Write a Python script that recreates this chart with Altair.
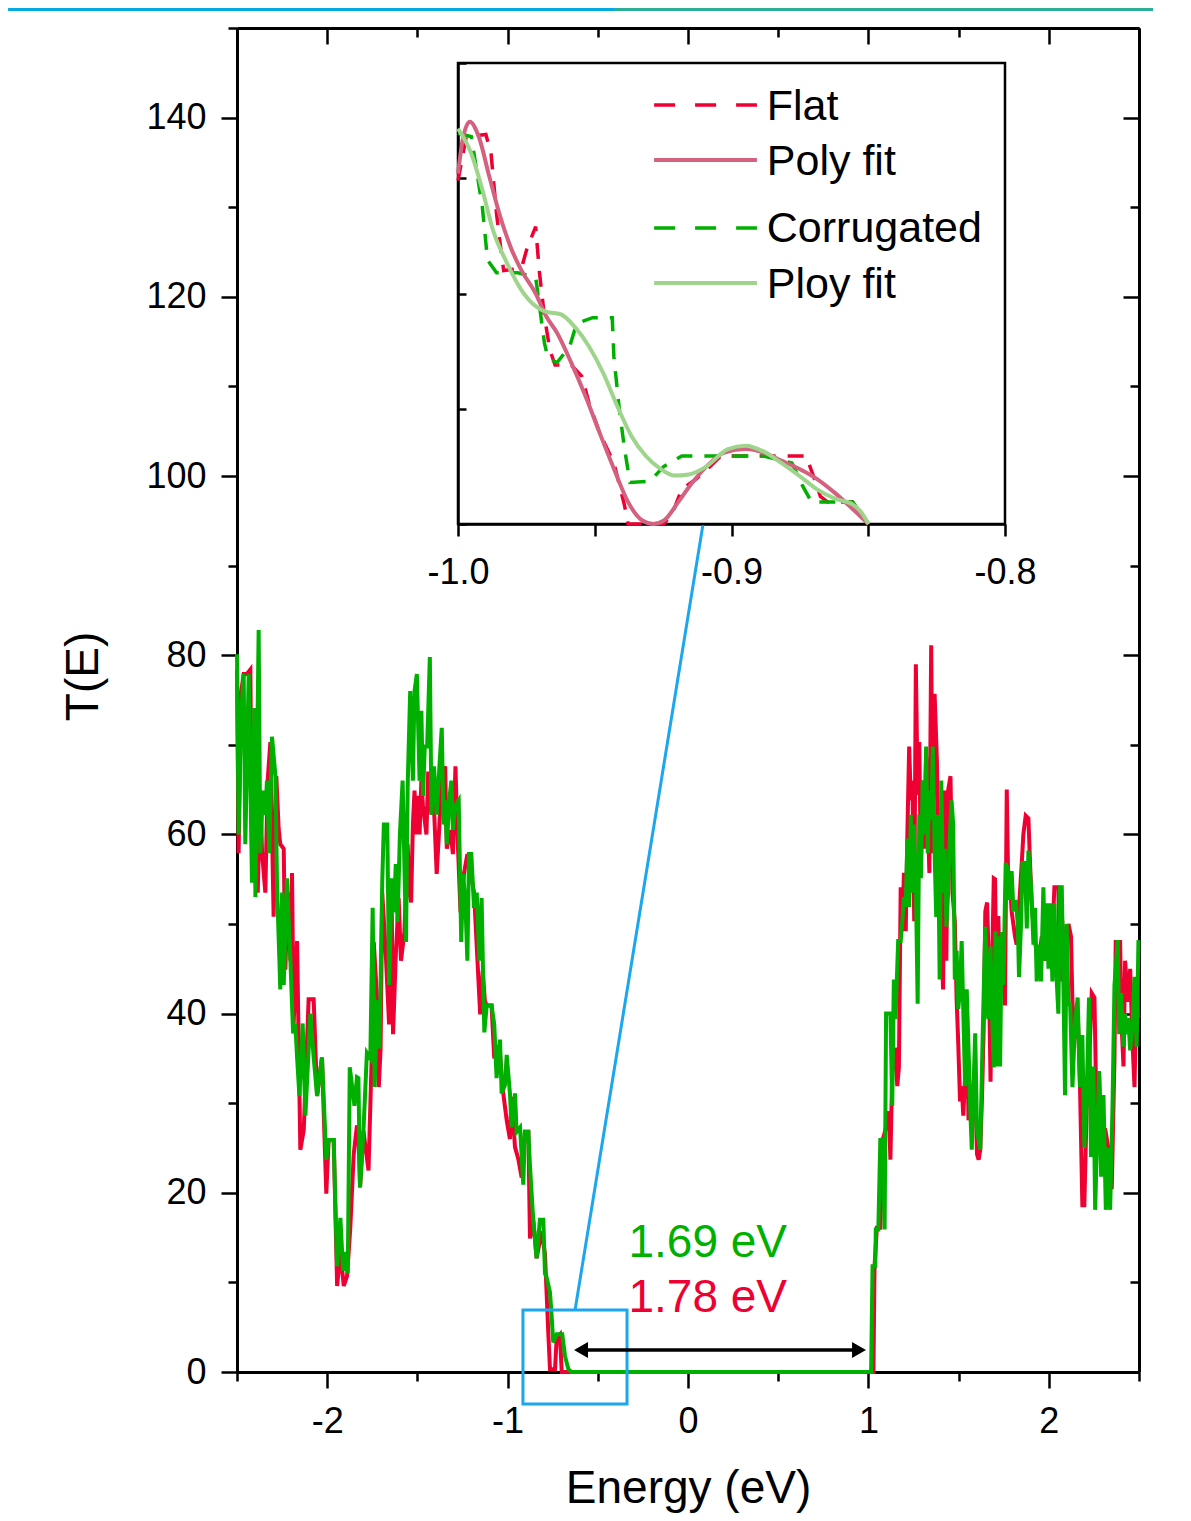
import altair as alt
import pandas as pd

FONT = "Liberation Sans"
RED = "#EE0033"
GREEN = "#00B000"
PINK = "#D3617F"
LGREEN = "#9ED48B"
BLUE = "#1BA6EE"
BAR_BLUE = "#05A9E1"
BAR_TEAL = "#2CAE96"

# ---------------- main curves: (Energy eV, T(E)) ----------------
FLAT_LEFT = [
    (-2.500, 78.4), (-2.491, 57.9), (-2.478, 75.7), (-2.463, 77.9), (-2.445, 77.9), (-2.426, 78.4),
    (-2.417, 58.4), (-2.398, 73.0), (-2.385, 53.5), (-2.371, 64.9), (-2.361, 57.9), (-2.343, 53.5),
    (-2.330, 66.0), (-2.315, 70.3), (-2.297, 50.8), (-2.282, 66.5), (-2.269, 60.6), (-2.260, 58.9),
    (-2.241, 58.4), (-2.232, 44.9), (-2.219, 53.5), (-2.204, 45.9), (-2.195, 55.7), (-2.186, 38.9),
    (-2.167, 48.1), (-2.149, 24.8), (-2.130, 27.0), (-2.103, 41.6), (-2.075, 41.6), (-2.056, 30.8),
    (-2.029, 35.1), (-2.005, 19.9), (-1.992, 25.9), (-1.964, 25.9), (-1.945, 9.6), (-1.927, 13.4),
    (-1.908, 9.6), (-1.890, 10.7), (-1.872, 16.1), (-1.853, 24.3), (-1.835, 27.5),
    (-1.827, 26.9), (-1.818, 20.6), (-1.799, 26.9), (-1.771, 22.5), (-1.752, 36.1), (-1.742, 48.0),
    (-1.723, 41.5), (-1.714, 31.8), (-1.704, 36.1), (-1.695, 53.5), (-1.676, 47.0), (-1.657, 38.8),
    (-1.642, 51.3), (-1.635, 37.7), (-1.620, 46.4), (-1.604, 52.9), (-1.591, 45.9), (-1.572, 49.1),
    (-1.554, 58.9), (-1.544, 53.5), (-1.535, 52.4), (-1.525, 61.1), (-1.516, 64.9), (-1.506, 60.0),
    (-1.497, 64.3), (-1.488, 60.0), (-1.478, 66.0), (-1.469, 63.2), (-1.450, 60.0), (-1.440, 67.0),
    (-1.422, 62.2), (-1.412, 64.9), (-1.393, 55.6), (-1.378, 61.1), (-1.365, 66.5), (-1.346, 67.6),
    (-1.337, 58.4), (-1.318, 60.5), (-1.303, 57.8), (-1.289, 67.6), (-1.280, 61.1), (-1.261, 51.3),
    (-1.242, 55.6), (-1.223, 57.8), (-1.204, 55.6), (-1.186, 53.5), (-1.167, 45.9), (-1.152, 39.9),
    (-1.138, 44.8), (-1.126, 41.4), (-1.116, 40.9), (-1.089, 40.9), (-1.074, 35.0), (-1.061, 36.2),
    (-1.042, 35.4), (-1.024, 31.1), (-1.005, 28.1), (-0.987, 26.0), (-0.978, 30.7), (-0.959, 25.1),
    (-0.941, 23.8), (-0.922, 21.7), (-0.904, 26.8), (-0.885, 26.8), (-0.876, 14.9), (-0.858, 17.0),
    (-0.839, 12.7), (-0.811, 15.7), (-0.793, 13.2), (-0.774, 4.2), (-0.765, 0.3), (-0.737, 0.3),
    (-0.728, 3.8), (-0.710, 4.2), (-0.700, 0.0),
]
FLAT_RIGHT = [
    (1.028, 0.0), (1.034, 11.8), (1.047, 16.1), (1.066, 16.1), (1.079, 25.9), (1.094, 27.0),
    (1.113, 29.1), (1.122, 23.7), (1.132, 33.5), (1.150, 36.2), (1.160, 31.9), (1.169, 34.0),
    (1.179, 54.1), (1.188, 49.2), (1.197, 55.7), (1.207, 49.2), (1.216, 60.0), (1.226, 69.8),
    (1.235, 63.8), (1.244, 66.0), (1.254, 50.3), (1.263, 79.0), (1.273, 64.4), (1.282, 70.3),
    (1.291, 56.2), (1.301, 66.0), (1.310, 58.4), (1.320, 68.7), (1.338, 55.7), (1.348, 81.1),
    (1.357, 57.9), (1.367, 75.7), (1.380, 68.1), (1.391, 53.5), (1.404, 49.2), (1.414, 42.7),
    (1.423, 64.9), (1.432, 45.9), (1.442, 64.9), (1.455, 66.5), (1.466, 53.5), (1.479, 50.3),
    (1.489, 41.6), (1.498, 36.7), (1.508, 30.2), (1.517, 31.9), (1.526, 28.6), (1.536, 32.9),
    (1.545, 40.0), (1.555, 28.1), (1.564, 29.7), (1.583, 28.6), (1.592, 31.9), (1.602, 24.3),
    (1.611, 23.7), (1.620, 24.8), (1.630, 30.8), (1.639, 38.4), (1.648, 51.4), (1.658, 52.4),
    (1.667, 45.9), (1.677, 32.4), (1.686, 45.9), (1.695, 55.1),
    (1.702, 55.0), (1.711, 41.3), (1.720, 50.9), (1.730, 42.3), (1.739, 43.2), (1.748, 48.6),
    (1.757, 40.9), (1.767, 65.0), (1.776, 53.2), (1.785, 54.6), (1.794, 51.4), (1.813, 48.6),
    (1.822, 47.7), (1.831, 50.5), (1.850, 56.8), (1.859, 60.0), (1.872, 62.1), (1.887, 61.8),
    (1.896, 56.8), (1.905, 52.3), (1.920, 48.6), (1.933, 46.8), (1.942, 45.4), (1.961, 48.6),
    (1.979, 45.9), (1.998, 50.5), (2.016, 46.8), (2.031, 54.1), (2.053, 54.1), (2.062, 43.6),
    (2.072, 50.9), (2.090, 46.4), (2.109, 50.0), (2.123, 48.6), (2.131, 41.3), (2.146, 37.2),
    (2.160, 40.4), (2.173, 31.8), (2.186, 18.6), (2.197, 18.6), (2.210, 29.5), (2.223, 34.1),
    (2.238, 42.3), (2.253, 41.8), (2.266, 27.2), (2.279, 33.2), (2.294, 23.6), (2.312, 27.2),
    (2.330, 25.0), (2.349, 20.4), (2.364, 35.0), (2.371, 48.2), (2.382, 45.4), (2.395, 48.2),
    (2.404, 38.6), (2.414, 34.1), (2.423, 45.9), (2.438, 41.3), (2.451, 45.0), (2.464, 36.8),
    (2.475, 31.8), (2.487, 43.2), (2.497, 39.5),
]
CORR_LEFT = [
    (-2.500, 80.1), (-2.491, 60.0), (-2.478, 73.0), (-2.463, 77.9), (-2.454, 58.9), (-2.435, 77.9),
    (-2.417, 54.6), (-2.404, 74.1), (-2.398, 53.0), (-2.380, 82.8), (-2.371, 57.9), (-2.356, 64.9),
    (-2.343, 62.2), (-2.334, 66.0), (-2.321, 57.9), (-2.306, 70.9), (-2.287, 66.5), (-2.278, 54.1),
    (-2.260, 42.7), (-2.250, 53.5), (-2.241, 43.2), (-2.223, 55.1), (-2.204, 45.9), (-2.189, 37.8),
    (-2.177, 38.9), (-2.167, 35.1), (-2.154, 30.8), (-2.136, 38.9), (-2.121, 28.6), (-2.093, 40.0),
    (-2.075, 35.1), (-2.056, 30.8), (-2.029, 35.1), (-2.005, 23.7), (-1.992, 25.9), (-1.964, 25.9),
    (-1.955, 18.9), (-1.945, 11.8), (-1.927, 17.2), (-1.912, 11.3), (-1.899, 13.4), (-1.886, 11.0),
    (-1.875, 34.0), (-1.862, 31.9), (-1.849, 29.7), (-1.835, 32.9),
    (-1.827, 32.8), (-1.818, 20.6), (-1.799, 26.9), (-1.780, 35.6), (-1.761, 35.0), (-1.748, 51.8),
    (-1.737, 31.8), (-1.723, 41.5), (-1.710, 36.1), (-1.695, 54.6), (-1.686, 61.1), (-1.667, 61.1),
    (-1.657, 43.2), (-1.642, 55.1), (-1.629, 51.3), (-1.620, 56.7), (-1.610, 50.2), (-1.597, 60.0),
    (-1.582, 66.0), (-1.563, 48.0), (-1.554, 65.4), (-1.540, 76.0), (-1.525, 66.0), (-1.516, 76.0),
    (-1.503, 77.9), (-1.488, 66.0), (-1.478, 73.8), (-1.469, 64.3), (-1.459, 69.8), (-1.446, 69.8),
    (-1.431, 79.8), (-1.422, 62.2), (-1.408, 67.6), (-1.393, 62.2), (-1.378, 67.6), (-1.365, 71.9),
    (-1.355, 61.1), (-1.346, 63.8), (-1.337, 58.9), (-1.321, 64.3), (-1.312, 66.0), (-1.303, 60.5),
    (-1.289, 63.2), (-1.271, 63.8), (-1.257, 48.0), (-1.246, 55.6), (-1.233, 51.8), (-1.223, 45.9),
    (-1.214, 57.8), (-1.201, 57.8), (-1.186, 51.8), (-1.171, 53.5), (-1.157, 45.9), (-1.144, 52.9),
    (-1.136, 44.4), (-1.129, 37.9), (-1.116, 40.9), (-1.089, 40.9), (-1.074, 38.8), (-1.061, 32.8),
    (-1.042, 37.1), (-1.033, 31.1), (-1.015, 32.0), (-1.005, 35.4), (-0.987, 31.1), (-0.978, 27.3),
    (-0.959, 31.1), (-0.950, 26.8), (-0.931, 27.3), (-0.913, 20.9), (-0.904, 26.8), (-0.885, 26.8),
    (-0.876, 23.0), (-0.858, 17.0), (-0.839, 12.7), (-0.821, 17.0), (-0.802, 17.0), (-0.793, 11.0),
    (-0.784, 10.6), (-0.765, 8.9), (-0.756, 6.3), (-0.747, 3.3), (-0.728, 4.2), (-0.697, 4.2),
    (-0.682, 1.8), (-0.663, 0.3), (-0.645, 0.0),
]
CORR_RIGHT = [
    (1.015, 0.0), (1.023, 11.8), (1.038, 11.8), (1.041, 15.9), (1.055, 15.9), (1.066, 25.9),
    (1.079, 25.9), (1.090, 15.9), (1.098, 40.0), (1.122, 40.0), (1.132, 29.7), (1.141, 43.8),
    (1.150, 39.4), (1.165, 48.1), (1.179, 48.1), (1.188, 50.3), (1.197, 53.0), (1.207, 51.9),
    (1.216, 59.5), (1.226, 51.9), (1.235, 62.2), (1.244, 53.5), (1.252, 61.1), (1.263, 54.6),
    (1.273, 41.1), (1.282, 62.2), (1.291, 55.1), (1.301, 66.0), (1.310, 60.0), (1.320, 69.8),
    (1.329, 57.9), (1.338, 64.9), (1.348, 61.6), (1.357, 69.8), (1.367, 57.9), (1.376, 50.8),
    (1.385, 62.2), (1.395, 43.8), (1.404, 66.0), (1.414, 53.5), (1.423, 58.4), (1.432, 49.7),
    (1.442, 53.5), (1.451, 59.5), (1.461, 63.8), (1.470, 61.1), (1.479, 43.8), (1.489, 47.0),
    (1.498, 40.5), (1.508, 42.7), (1.517, 48.1), (1.527, 39.4), (1.536, 31.9), (1.545, 42.7),
    (1.555, 36.2), (1.564, 29.7), (1.573, 24.8), (1.583, 31.9), (1.592, 37.8), (1.602, 27.0),
    (1.620, 24.8), (1.635, 38.9), (1.648, 49.7), (1.664, 39.4), (1.677, 47.5), (1.686, 39.4),
    (1.695, 34.0), (1.705, 49.2),
    (1.711, 34.1), (1.720, 48.6), (1.730, 34.1), (1.739, 49.1), (1.748, 43.2), (1.761, 56.8),
    (1.776, 55.9), (1.785, 52.7), (1.794, 55.9), (1.804, 51.4), (1.817, 52.7), (1.828, 50.0),
    (1.835, 44.1), (1.846, 50.0), (1.854, 56.8), (1.868, 56.8), (1.878, 49.5), (1.887, 58.2),
    (1.902, 54.1), (1.915, 47.7), (1.924, 51.8), (1.933, 43.6), (1.946, 47.7), (1.957, 43.6),
    (1.970, 54.1), (1.979, 45.9), (1.989, 52.3), (1.998, 45.0), (2.007, 52.3), (2.020, 43.6),
    (2.031, 52.3), (2.044, 43.6), (2.053, 40.0), (2.062, 54.1), (2.072, 54.1), (2.081, 43.2),
    (2.090, 30.9), (2.099, 50.0), (2.109, 40.9), (2.118, 41.3), (2.131, 31.8), (2.146, 39.1),
    (2.160, 41.8), (2.173, 31.8), (2.186, 37.6), (2.197, 25.0), (2.210, 30.9), (2.223, 41.8),
    (2.234, 24.0), (2.247, 34.1), (2.257, 18.1), (2.266, 25.0), (2.279, 33.6), (2.290, 21.8),
    (2.303, 30.9), (2.316, 18.1), (2.330, 25.0), (2.340, 18.1), (2.353, 29.5), (2.364, 43.2),
    (2.371, 45.0), (2.382, 48.2), (2.390, 37.7), (2.401, 42.3), (2.414, 36.3), (2.423, 40.0),
    (2.432, 37.7), (2.441, 39.5), (2.451, 35.9), (2.464, 38.6), (2.475, 44.1), (2.487, 36.3),
    (2.497, 48.2),
]

# ---------------- inset curves ----------------
INSET_FLAT = [
    (-1.0, 2.98), (-0.997, 3.36), (-0.9898, 3.38), (-0.9879, 3.21), (-0.9859, 2.69), (-0.984, 2.32),
    (-0.9833, 2.20), (-0.9768, 2.22), (-0.9749, 2.38), (-0.9716, 2.58), (-0.9703, 2.20), (-0.9684, 1.80),
    (-0.9664, 1.51), (-0.9645, 1.38), (-0.9586, 1.38), (-0.9547, 1.28), (-0.9521, 1.05), (-0.9482, 0.79),
    (-0.943, 0.53), (-0.9391, 0.16), (-0.9378, 0.0), (-0.9247, 0.0), (-0.9215, 0.10), (-0.9182, 0.30),
    (-0.913, 0.39), (-0.9078, 0.50), (-0.9039, 0.59), (-0.8727, 0.59), (-0.8701, 0.42), (-0.8675, 0.24),
    (-0.8648, 0.19), (-0.8557, 0.19), (-0.8499, 0.0),
]
INSET_CORR = [
    (-1.0, 3.39), (-0.9951, 3.36), (-0.9938, 3.16), (-0.9911, 2.75), (-0.9892, 2.29), (-0.9859, 2.18),
    (-0.9781, 2.18), (-0.9716, 2.14), (-0.9703, 1.91), (-0.9684, 1.57), (-0.9671, 1.44), (-0.9638, 1.40),
    (-0.9592, 1.54), (-0.9566, 1.74), (-0.9508, 1.79), (-0.9436, 1.79), (-0.943, 1.45), (-0.941, 0.99),
    (-0.9391, 0.65), (-0.9371, 0.36), (-0.9299, 0.37), (-0.9247, 0.50), (-0.9182, 0.59), (-0.8883, 0.59),
    (-0.8779, 0.53), (-0.874, 0.33), (-0.8707, 0.19), (-0.8557, 0.19), (-0.8499, 0.0),
]
INSET_FLAT_FIT = [
    (-1.0, 3.04), (-0.9983, 3.33), (-0.9957, 3.49), (-0.9924, 3.36), (-0.9885, 3.01), (-0.9846, 2.67),
    (-0.9807, 2.40), (-0.9768, 2.20), (-0.9716, 2.00), (-0.9677, 1.80), (-0.9638, 1.66), (-0.9586, 1.40),
    (-0.9534, 1.11), (-0.9482, 0.79), (-0.943, 0.48), (-0.9378, 0.19), (-0.9326, 0.03), (-0.9286, 0.0),
    (-0.9247, 0.03), (-0.9195, 0.19), (-0.9143, 0.36), (-0.9091, 0.50), (-0.9026, 0.62), (-0.8948, 0.65),
    (-0.8883, 0.62), (-0.8818, 0.55), (-0.8753, 0.48), (-0.8687, 0.39), (-0.8622, 0.27), (-0.8557, 0.13),
    (-0.8499, 0.0),
]
INSET_CORR_FIT = [
    (-1.0, 3.43), (-0.9951, 3.21), (-0.9911, 2.90), (-0.9872, 2.55), (-0.982, 2.26), (-0.9768, 2.03),
    (-0.9716, 1.89), (-0.9677, 1.84), (-0.9625, 1.82), (-0.9573, 1.71), (-0.9521, 1.54), (-0.9469, 1.31),
    (-0.9417, 1.02), (-0.9365, 0.76), (-0.9313, 0.59), (-0.9261, 0.48), (-0.9208, 0.42), (-0.9156, 0.43),
    (-0.9091, 0.50), (-0.9013, 0.65), (-0.8948, 0.68), (-0.8883, 0.63), (-0.8818, 0.53), (-0.8753, 0.42),
    (-0.8687, 0.30), (-0.8622, 0.22), (-0.8557, 0.17), (-0.8525, 0.10), (-0.8499, 0.0),
]

# ---------------- ticks / labels / annotations ----------------
X_TICKS = [-2.5, -2, -1.5, -1, -0.5, 0, 0.5, 1, 1.5, 2, 2.5]
Y_TICKS = list(range(0, 151, 10))
INSET_X_TICKS = [-1.0, -0.95, -0.9, -0.85, -0.8]
INSET_Y_TICKS = [0, 1, 2, 3, 4]

GAP_LABELS = ["1.69 eV", "1.78 eV"]
GAP_COLORS = [GREEN, RED]
GAP_LABEL_E = [-0.33, -0.33]
GAP_LABEL_T = [12.83, 6.69]

ARROW_E = [-0.593, 0.948]
ARROW_T = [2.45, 2.45]
ZOOM_BOX = {"e1": -0.915, "e2": -0.338, "t1": -3.57, "t2": 6.92}
CONNECT = {"e1": -0.626, "t1": 6.92, "e2": 0.083, "t2": 94.6}
TOP_BAR_E = [(-3.769, -0.405, BAR_BLUE), (-0.405, 2.578, BAR_TEAL)]
TOP_BAR_T = 152.06

LEGEND_LABELS = ["Flat", "Poly fit", "Corrugated", "Ploy fit"]
LEGEND_LINE_T = [3.636, 3.158, 2.568, 2.091]
LEGEND_TEXT_T = [3.505, 3.028, 2.447, 1.961]
LEGEND_E = [-0.9283, -0.8907, -0.8871]

W, H = 902, 1344
INSET_PX = {"x0": 221, "x1": 768, "y0": 496, "y1": 35}


def frame(pairs):
    return pd.DataFrame(pairs, columns=["E", "T"])


common = dict(grid=False, domainColor="black", tickColor="black", labelColor="black",
              titleColor="black", labelFont=FONT, titleFont=FONT, labelOverlap=False,
              labelFlush=False)

major_x = {"condition": {"test": "datum.value % 1 == 0", "value": 16}, "value": 9}
major_y = {"condition": {"test": "datum.value % 20 == 0", "value": 16}, "value": 9}


def xm():
    return alt.Scale(domain=[-2.5, 2.5], nice=False, zero=False)


def ym():
    return alt.Scale(domain=[0, 150], nice=False, zero=False)


def xi():
    return alt.Scale(domain=[-1.0, -0.8], range=[INSET_PX["x0"], INSET_PX["x1"]], nice=False, zero=False)


def yi():
    return alt.Scale(domain=[0, 4], range=[INSET_PX["y0"], INSET_PX["y1"]], nice=False, zero=False)


ax_bottom = alt.Axis(orient="bottom", values=X_TICKS,
                     labelExpr="datum.value % 1 == 0 ? '' + datum.value : ''",
                     tickSize=major_x, tickWidth=2.5, domainWidth=3, labelFontSize=36,
                     labelPadding=16, title="Energy (eV)", titleFontSize=46,
                     titleFontWeight="normal", titleX=W / 2, titleY=130,
                     titleBaseline="alphabetic", titleAlign="center", **common)
ax_left = alt.Axis(orient="left", values=Y_TICKS,
                   labelExpr="datum.value % 20 == 0 ? '' + datum.value : ''",
                   tickSize=major_y, tickWidth=2.5, domainWidth=3, labelFontSize=36,
                   labelPadding=15, title="T(E)", titleFontSize=46, titleFontWeight="normal",
                   titleX=-140, titleY=648, titleAngle=270, titleBaseline="alphabetic",
                   titleAlign="center", **common)

red = alt.Chart(frame(FLAT_LEFT + FLAT_RIGHT)).mark_line(color=RED, strokeWidth=4).encode(
    x=alt.X("E:Q", scale=xm(), axis=ax_bottom),
    y=alt.Y("T:Q", scale=ym(), axis=ax_left),
)
green = alt.Chart(frame(CORR_LEFT + CORR_RIGHT)).mark_line(color=GREEN, strokeWidth=4).encode(
    x=alt.X("E:Q", scale=xm(), axis=None),
    y=alt.Y("T:Q", scale=ym(), axis=None),
)

box = alt.Chart(pd.DataFrame([ZOOM_BOX])).mark_rect(
    fillOpacity=0, stroke=BLUE, strokeWidth=3, clip=False).encode(
    x=alt.X("e1:Q", scale=xm(), axis=None), x2="e2:Q",
    y=alt.Y("t1:Q", scale=ym(), axis=None), y2="t2:Q",
)
connector = alt.Chart(pd.DataFrame([CONNECT])).mark_rule(color=BLUE, strokeWidth=3).encode(
    x=alt.X("e1:Q", scale=xm(), axis=None), x2="e2:Q",
    y=alt.Y("t1:Q", scale=ym(), axis=None), y2="t2:Q",
)
arrow_df = pd.DataFrame({"E": ARROW_E, "T": ARROW_T, "shape": ["triangle-left", "triangle-right"]})
arrow_line = alt.Chart(arrow_df).mark_line(color="black", strokeWidth=3.5).encode(
    x=alt.X("E:Q", scale=xm(), axis=None),
    y=alt.Y("T:Q", scale=ym(), axis=None),
)
arrow_heads = alt.Chart(arrow_df).mark_point(filled=True, color="black", size=260, opacity=1).encode(
    x=alt.X("E:Q", scale=xm(), axis=None),
    y=alt.Y("T:Q", scale=ym(), axis=None),
    shape=alt.Shape("shape:N", scale=None),
)
gap_df = pd.DataFrame({"E": GAP_LABEL_E, "T": GAP_LABEL_T, "label": GAP_LABELS, "col": GAP_COLORS})
gap_text = alt.Chart(gap_df).mark_text(align="left", baseline="alphabetic", fontSize=46,
                                       font=FONT).encode(
    x=alt.X("E:Q", scale=xm(), axis=None),
    y=alt.Y("T:Q", scale=ym(), axis=None),
    text="label:N",
    color=alt.Color("col:N", scale=None),
)
bar_df = pd.DataFrame({"e1": [b[0] for b in TOP_BAR_E], "e2": [b[1] for b in TOP_BAR_E],
                       "col": [b[2] for b in TOP_BAR_E], "T": [TOP_BAR_T] * len(TOP_BAR_E)})
top_bar = alt.Chart(bar_df).mark_rule(strokeWidth=3, clip=False).encode(
    x=alt.X("e1:Q", scale=xm(), axis=None), x2="e2:Q",
    y=alt.Y("T:Q", scale=ym(), axis=None),
    color=alt.Color("col:N", scale=None),
)

# ---------------- mirrored top / right axes (inward ticks) ----------------
mirror = alt.Chart(pd.DataFrame({"E": [-2.5, 2.5], "T": [0, 150]})).mark_point(opacity=0).encode(
    x=alt.X("E:Q", scale=xm(),
            axis=alt.Axis(orient="bottom", offset=-H, values=X_TICKS, labels=False, title="",
                          tickSize=major_x, tickWidth=2.5, domainWidth=3, **common)),
    y=alt.Y("T:Q", scale=ym(),
            axis=alt.Axis(orient="left", offset=-W, values=Y_TICKS, labels=False, title="",
                          tickSize=major_y, tickWidth=2.5, domainWidth=3, **common)),
)

# ---------------- inset ----------------
inset_x_axis = alt.Axis(orient="bottom", offset=-(H - INSET_PX["y0"]), values=INSET_X_TICKS,
                        labelExpr="abs(datum.value * 10 - round(datum.value * 10)) < 0.001 ? "
                                  "replace(format(datum.value, '.1f'), '\u2212', '-') : ''",
                        tickSize=12, tickWidth=2.5, domainWidth=2.5, labelFontSize=36,
                        labelPadding=19, title="", **common)
inset_y_axis = alt.Axis(orient="right", offset=-(W - INSET_PX["x0"]), values=INSET_Y_TICKS,
                        labels=False, tickSize=8, tickWidth=2.5, domainWidth=2.5, title="",
                        **common)

frame_rect = alt.Chart(pd.DataFrame({"x": [-1.0], "x2": [-0.8], "y": [0], "y2": [4]})).mark_rect(
    fillOpacity=0, stroke="black", strokeWidth=2.5).encode(
    x=alt.X("x:Q", scale=xi(), axis=inset_x_axis), x2="x2:Q",
    y=alt.Y("y:Q", scale=yi(), axis=inset_y_axis), y2="y2:Q",
)


def inset_line(pairs, color, dash=None, interp="linear", width=3.5):
    kw = dict(color=color, strokeWidth=width, interpolate=interp)
    if dash:
        kw["strokeDash"] = dash
    return alt.Chart(frame(pairs)).mark_line(**kw).encode(
        x=alt.X("E:Q", scale=xi(), axis=None),
        y=alt.Y("T:Q", scale=yi(), axis=None),
    )


flat_dash = inset_line(INSET_FLAT, RED, dash=[16, 12])
corr_dash = inset_line(INSET_CORR, GREEN, dash=[16, 12])
flat_fit = inset_line(INSET_FLAT_FIT, PINK, interp="monotone", width=4)
corr_fit = inset_line(INSET_CORR_FIT, LGREEN, interp="monotone", width=4)

leg_df = pd.DataFrame({"x": [LEGEND_E[0]] * 4, "x2": [LEGEND_E[1]] * 4, "y": LEGEND_LINE_T,
                       "col": [RED, PINK, GREEN, LGREEN], "lab": LEGEND_LABELS,
                       "ty": LEGEND_TEXT_T, "tx": [LEGEND_E[2]] * 4})
leg_dashed = alt.Chart(leg_df.iloc[[0, 2]]).mark_rule(strokeWidth=3.5, strokeDash=[21, 20]).encode(
    x=alt.X("x:Q", scale=xi(), axis=None), x2="x2:Q",
    y=alt.Y("y:Q", scale=yi(), axis=None),
    color=alt.Color("col:N", scale=None),
)
leg_solid = alt.Chart(leg_df.iloc[[1, 3]]).mark_rule(strokeWidth=4).encode(
    x=alt.X("x:Q", scale=xi(), axis=None), x2="x2:Q",
    y=alt.Y("y:Q", scale=yi(), axis=None),
    color=alt.Color("col:N", scale=None),
)
leg_text = alt.Chart(leg_df).mark_text(align="left", baseline="alphabetic", fontSize=43,
                                       font=FONT, color="black").encode(
    x=alt.X("tx:Q", scale=xi(), axis=None),
    y=alt.Y("ty:Q", scale=yi(), axis=None),
    text="lab:N",
)

chart = alt.layer(
    red, green, box, connector, arrow_line, arrow_heads, gap_text, top_bar,
    mirror,
    frame_rect, flat_dash, corr_dash, flat_fit, corr_fit, leg_dashed, leg_solid, leg_text,
).resolve_scale(
    x="independent", y="independent"
).properties(
    width=W, height=H,
    padding={"left": 229, "top": 20, "right": 44, "bottom": 141},
    autosize=alt.AutoSizeParams(type="none"),
).configure_view(strokeWidth=0).configure_axis(labelFont=FONT, titleFont=FONT)

chart.save("out.html", embed_options={"renderer": "svg", "actions": False})
